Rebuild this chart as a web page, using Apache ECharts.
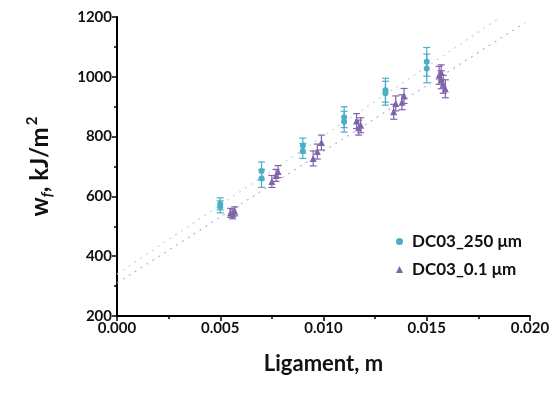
<!DOCTYPE html>
<html>
<head>
<meta charset="utf-8">
<script src="https://cdn.jsdelivr.net/npm/echarts@6/dist/echarts.min.js"></script>
<style>
  html, body { margin: 0; padding: 0; background: #fff; }
  #chart { width: 555px; height: 396px; }
</style>
</head>
<body>
<div id="chart"></div>
<script>
// DC03_250 µm: [ligament, wf, error]
const cyanPts = [
  [0.005, 575, 20], [0.005, 565, 20],
  [0.007, 685, 30], [0.007, 660, 30],
  [0.009, 770, 25], [0.009, 752, 25],
  [0.011, 865, 35], [0.011, 850, 35],
  [0.013, 955, 40], [0.013, 945, 40],
  [0.015, 1050, 48], [0.015, 1028, 48]
]
// DC03_0.1 µm
const purplePts = [
  [0.0055, 545, 15], [0.0056, 540, 15], [0.0057, 550, 15],
  [0.0075, 650, 20], [0.0077, 670, 20], [0.0078, 683, 20],
  [0.0095, 727, 25], [0.0097, 750, 25], [0.0099, 780, 25],
  [0.0116, 852, 25], [0.0118, 838, 25], [0.0117, 830, 25],
  [0.0134, 883, 25], [0.0135, 911, 25], [0.0138, 915, 25], [0.0139, 936, 25],
  [0.0156, 1005, 30], [0.0157, 990, 30], [0.0158, 975, 30], [0.0159, 960, 30], [0.0157, 1015, 25]
]
// dotted linear fits (end points)
const cyanFit = [[0, 340], [0.01855, 1198]]
const purpleFit = [[0, 310], [0.01976, 1181]]

const names = ['DC03_250 μm', 'DC03_0.1 μm']
const colors = ['#4aaec8', '#8064aa']
const fitColors = ['#b0dcea', '#bbb0d8']

const chart = echarts.init(document.getElementById('chart'))

function errBar(color) {
  return function (params, api) {
    const x = api.value(0), y = api.value(1), e = api.value(2)
    const t = api.coord([x, y + e])
    const b = api.coord([x, y - e])
    const st = { stroke: color, lineWidth: 1.2 }
    return {
      type: 'group',
      children: [
        { type: 'line', shape: { x1: t[0], y1: t[1], x2: b[0], y2: b[1] }, style: st },
        { type: 'line', shape: { x1: t[0] - 3.5, y1: t[1], x2: t[0] + 3.5, y2: t[1] }, style: st },
        { type: 'line', shape: { x1: b[0] - 3.5, y1: b[1], x2: b[0] + 3.5, y2: b[1] }, style: st }
      ]
    }
  }
}

const font = 'Lato, "Open Sans", sans-serif'

chart.setOption({
  animation: false,
  grid: { left: 117, right: 25, top: 17, bottom: 80, containLabel: false },
  legend: {
    data: names,
    orient: 'vertical',
    left: 391,
    top: 228,
    itemGap: 11,
    itemWidth: 7,
    itemHeight: 7,
    textStyle: { fontFamily: font, fontWeight: 'bold', fontSize: 17, color: '#111', padding: [0, 0, 0, 4] }
  },
  xAxis: {
    type: 'value',
    min: 0, max: 0.02, interval: 0.005,
    name: 'Ligament, m',
    nameLocation: 'middle',
    nameGap: 37,
    nameTextStyle: { fontFamily: font, fontWeight: 'bold', fontSize: 22, color: '#111' },
    axisLine: { lineStyle: { color: '#000', width: 2 } },
    axisTick: { length: 5, lineStyle: { color: '#000', width: 1.5 } },
    minorTick: { show: true, splitNumber: 2, length: 3, lineStyle: { color: '#000', width: 1.5 } },
    splitLine: { show: false },
    axisLabel: {
      fontFamily: font, fontWeight: 'bold', fontSize: 15, color: '#111', margin: 5,
      formatter: v => v.toFixed(3)
    }
  },
  yAxis: {
    type: 'value',
    min: 200, max: 1200, interval: 200,
    name: '{a|w}{s|f}{a|, kJ/m}{p|2}',
    nameLocation: 'middle',
    nameGap: 62,
    nameRotate: 90,
    nameTextStyle: {
      color: '#111',
      rich: {
        a: { fontFamily: font, fontWeight: 'bold', fontSize: 24, color: '#111', lineHeight: 30, verticalAlign: 'middle' },
        s: { fontFamily: font, fontWeight: 'bold', fontStyle: 'italic', fontSize: 15, color: '#111', lineHeight: 30, verticalAlign: 'bottom', padding: [12, 0, 0, 0] },
        p: { fontFamily: font, fontWeight: 'bold', fontSize: 15, color: '#111', lineHeight: 30, verticalAlign: 'top', padding: [0, 0, 14, 2] }
      }
    },
    axisLine: { show: true, lineStyle: { color: '#000', width: 2 } },
    axisTick: { show: true, length: 5, lineStyle: { color: '#000', width: 1.5 } },
    minorTick: { show: true, splitNumber: 2, length: 3, lineStyle: { color: '#000', width: 1.5 } },
    splitLine: { show: false },
    axisLabel: {
      fontFamily: font, fontWeight: 'bold', fontSize: 15, color: '#111', margin: 5,
      formatter: v => String(v)
    }
  },
  series: [
    {
      name: 'fit1', type: 'line', data: cyanFit, symbol: 'none', silent: true, z: 1,
      lineStyle: { color: fitColors[0], width: 1.2, type: [2, 5] }
    },
    {
      name: 'fit2', type: 'line', data: purpleFit, symbol: 'none', silent: true, z: 1,
      lineStyle: { color: fitColors[1], width: 1.2, type: [2, 5] }
    },
    {
      name: 'err1', type: 'custom', data: cyanPts, renderItem: errBar(colors[0]), z: 2,
      encode: { x: 0, y: 1 }
    },
    {
      name: 'err2', type: 'custom', data: purplePts, renderItem: errBar(colors[1]), z: 2,
      encode: { x: 0, y: 1 }
    },
    {
      name: names[0], type: 'scatter', data: cyanPts.map(p => [p[0], p[1]]),
      symbol: 'circle', symbolSize: 6, itemStyle: { color: colors[0], opacity: 1 }, z: 3
    },
    {
      name: names[1], type: 'scatter', data: purplePts.map(p => [p[0], p[1]]),
      symbol: 'triangle', symbolSize: 7, itemStyle: { color: colors[1], opacity: 1 }, z: 3
    }
  ]
})
</script>
</body>
</html>
